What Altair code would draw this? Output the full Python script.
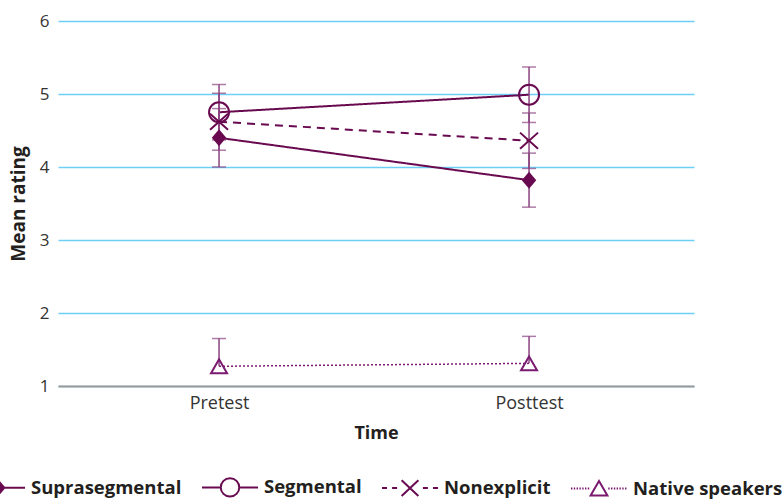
import altair as alt
import pandas as pd

# ---- data ----
series = ["Suprasegmental", "Segmental", "Nonexplicit", "Native speakers"]
times = ["Pretest", "Posttest"]
pre_mean = [4.40, 4.75, 4.62, 1.27]
post_mean = [3.82, 4.99, 4.36, 1.31]
pre_err_low = [0.40, 0.38, 0.39, 0.0]
pre_err_high = [0.40, 0.38, 0.39, 0.38]
post_err_low = [0.37, 0.38, 0.38, 0.0]
post_err_high = [0.37, 0.38, 0.38, 0.37]
y_ticks = [1, 2, 3, 4, 5, 6]

PURPLE = "#690a50"
ERR = "#8a4380"
NATIVE = "#7a1a70"
GRID = "#6dcff6"
FONT = "Open Sans"

rows, caps = [], []
for i, s in enumerate(series):
    for t, m, lo, hi in [("Pretest", pre_mean[i], pre_err_low[i], pre_err_high[i]),
                         ("Posttest", post_mean[i], post_err_low[i], post_err_high[i])]:
        rows.append(dict(series=s, time=t, mean=m, lo=m - lo, hi=m + hi))
        caps.append(dict(series=s, time=t, cap=m + hi))
        if lo > 0:
            caps.append(dict(series=s, time=t, cap=m - lo))
df = pd.DataFrame(rows)
cap_df = pd.DataFrame(caps)

styles = {
    "Suprasegmental": dict(color=PURPLE, dash=[1, 0], width=2,
                           shape="M0,-1L0.85,0L0,1L-0.85,0Z", size=289, filled=True),
    "Segmental": dict(color=PURPLE, dash=[1, 0], width=2, shape="circle", size=400, filled=False),
    "Nonexplicit": dict(color=PURPLE, dash=[8, 6], width=2,
                        shape="M-1,-0.9L1,0.9M-1,0.9L1,-0.9", size=324, filled=False),
    "Native speakers": dict(color=NATIVE, dash=[2, 2], width=1.5, shape="triangle-up", size=256, filled=False),
}

x_enc = alt.X("time:N", sort=times,
              scale=alt.Scale(type="point", padding=0.5258, align=0.494),
              axis=alt.Axis(title="Time", labelAngle=0, ticks=False, grid=False,
                            domainColor="#9a9a9a", domainWidth=2,
                            labelFont=FONT, labelFontSize=18, labelColor="#333333", labelPadding=8,
                            titleFont=FONT, titleFontSize=18, titleFontWeight="bold",
                            titleColor="#231f20", titlePadding=12, zindex=1))
y_scale = alt.Scale(domain=[1, 6], nice=False, zero=False)
y_axis = alt.Axis(title="Mean rating", values=y_ticks, grid=True, gridColor=GRID, gridWidth=1.5,
                  domain=False, ticks=False, labelFont=FONT, labelFontSize=17,
                  labelColor="#333333", labelPadding=9,
                  titleFont=FONT, titleFontSize=19, titleFontWeight="bold",
                  titleColor="#231f20", titlePadding=11)

base = alt.Chart(df)
capbase = alt.Chart(cap_df)
layers = []
for s in series:
    st = styles[s]
    layers.append(base.transform_filter(alt.datum.series == s).mark_line(
        color=st["color"], strokeWidth=st["width"], strokeDash=st["dash"]).encode(
        x=x_enc, y=alt.Y("mean:Q", scale=y_scale, axis=y_axis)))
for s in series:
    layers.append(base.transform_filter(alt.datum.series == s).mark_rule(
        color=ERR, strokeWidth=1.5).encode(
        x=x_enc, y=alt.Y("lo:Q", scale=y_scale, axis=y_axis), y2="hi:Q"))
    layers.append(capbase.transform_filter(alt.datum.series == s).mark_tick(
        color=ERR, orient="horizontal", size=14, thickness=1.5).encode(
        x=x_enc, y=alt.Y("cap:Q", scale=y_scale, axis=y_axis)))
for s in series:
    st = styles[s]
    layers.append(base.transform_filter(alt.datum.series == s).mark_point(
        shape=st["shape"], size=st["size"], filled=st["filled"],
        color=st["color"], strokeWidth=2, opacity=1).encode(
        x=x_enc, y=alt.Y("mean:Q", scale=y_scale, axis=y_axis)))

# legend symbols: line + marker, in symbol units [-1, 1]
dots_l = "".join(f"M{-1 + 0.1 * k:.2f},0L{-1 + 0.1 * k + 0.05:.2f},0" for k in range(7))
dots_r = "".join(f"M{0.33 + 0.1 * k:.2f},0L{0.33 + 0.1 * k + 0.05:.2f},0" for k in range(7))
leg_paths = [
    "M-1,0L-0.26,0M0.26,0L1,0M0,-0.3L0.26,0L0,0.3L-0.26,0Z",
    "M-1,0L-0.33,0M0.33,0L1,0M0.33,0A0.33,0.33 0 1 1 -0.33,0A0.33,0.33 0 1 1 0.33,0",
    "M-1,0L-0.82,0M-0.64,0L-0.46,0M0.46,0L0.64,0M0.82,0L1,0M-0.3,-0.28L0.3,0.28M-0.3,0.28L0.3,-0.28",
    dots_l + dots_r + "M0,-0.27L0.3,0.25L-0.3,0.25Z",
]
legend = alt.Legend(orient="none", legendX=-90, legendY=437, direction="horizontal",
                    columns=4, title=None, symbolSize=3136, symbolStrokeWidth=2,
                    labelFont=FONT, labelFontSize=18.5, labelFontWeight="bold",
                    labelColor="#231f20", labelOffset=5, columnPadding=16, padding=0)
legend_layer = base.transform_filter("false").mark_point(opacity=1, strokeWidth=2).encode(
    x=x_enc, y=alt.Y("mean:Q", scale=y_scale, axis=y_axis),
    shape=alt.Shape("series:N", scale=alt.Scale(domain=series, range=leg_paths), legend=legend),
    fill=alt.Fill("series:N", scale=alt.Scale(domain=series,
                  range=[PURPLE, "transparent", "transparent", "transparent"]), legend=legend),
    stroke=alt.Stroke("series:N", scale=alt.Scale(domain=series,
                      range=[PURPLE, PURPLE, PURPLE, NATIVE]), legend=legend),
)
layers.append(legend_layer)

chart = alt.layer(*layers).properties(
    width=636, height=365,
    autosize=alt.AutoSizeParams(type="none"),
    padding={"left": 58, "top": 21, "right": 90, "bottom": 113},
).configure(background="white").configure_view(strokeWidth=0, stroke="transparent")

chart.save("out.html", embed_options={"renderer": "svg", "actions": False})
